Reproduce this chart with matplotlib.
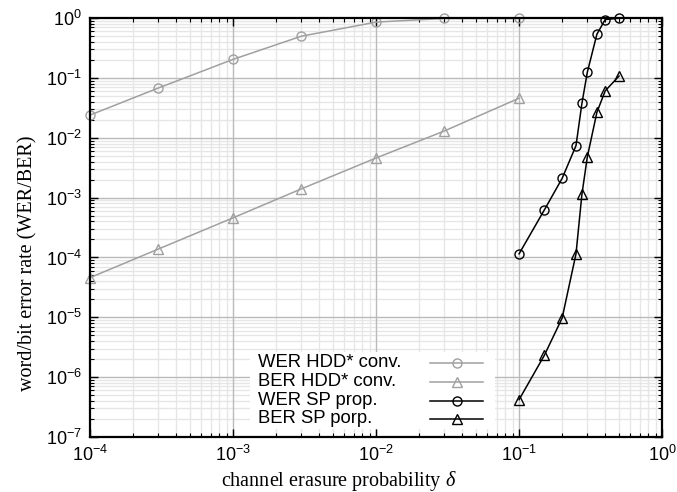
import matplotlib
matplotlib.use("Agg")
import matplotlib.pyplot as plt
from matplotlib.ticker import LogLocator, NullFormatter
from matplotlib.lines import Line2D
from matplotlib.patches import Rectangle

plt.rcParams['font.family'] = ['Liberation Sans', 'DejaVu Sans']
plt.rcParams['mathtext.fontset'] = 'custom'
plt.rcParams['mathtext.it'] = 'Liberation Serif:italic'
plt.rcParams['mathtext.rm'] = 'Liberation Sans'
plt.rcParams['axes.unicode_minus'] = False

# data
delta_hdd = [1e-4, 3e-4, 1e-3, 3e-3, 1e-2, 3e-2, 1e-1]
wer_hdd = [0.024, 0.068, 0.205, 0.50, 0.86, 0.99, 0.99]
ber_hdd = [4.6e-5, 1.38e-4, 4.6e-4, 1.4e-3, 4.6e-3, 0.013, 0.046]

delta_sp = [0.1, 0.15, 0.2, 0.25, 0.275, 0.3, 0.35, 0.4, 0.5]
wer_sp = [1.15e-4, 6.2e-4, 2.1e-3, 7.4e-3, 0.0377, 0.125, 0.54, 0.95, 1.0]
ber_sp = [4.2e-7, 2.3e-6, 9.7e-6, 1.15e-4, 1.14e-3, 4.8e-3, 0.0267, 0.061, 0.108]

labels = ["WER HDD* conv.", "BER HDD* conv.", "WER SP prop.", "BER SP porp."]

x_decades = [1e-4, 1e-3, 1e-2, 1e-1, 1]
y_decades = [1e-7, 1e-6, 1e-5, 1e-4, 1e-3, 1e-2, 1e-1, 1]

fig = plt.figure(figsize=(6.77, 4.92), dpi=100)
ax = fig.add_axes([0.133, 0.112, 0.845, 0.851])

gray = '#a0a0a0'
styles = [
    (delta_hdd, wer_hdd, gray, 'o'),
    (delta_hdd, ber_hdd, gray, '^'),
    (delta_sp, wer_sp, 'black', 'o'),
    (delta_sp, ber_sp, 'black', '^'),
]
for (xs, ys, c, m), lab in zip(styles, labels):
    ax.plot(xs, ys, color=c, lw=1.1, marker=m, ms=6.5, mfc='none', mec=c, mew=1.0,
            label=lab, clip_on=False, zorder=4)

ax.set_xscale('log')
ax.set_yscale('log')
ax.set_xlim(1e-4, 1)
ax.set_ylim(1e-7, 1)

ax.xaxis.set_major_locator(LogLocator(base=10, numticks=10))
ax.yaxis.set_major_locator(LogLocator(base=10, numticks=10))
ax.xaxis.set_minor_locator(LogLocator(base=10, subs=range(2, 10), numticks=20))
ax.yaxis.set_minor_locator(LogLocator(base=10, subs=range(2, 10), numticks=20))
ax.xaxis.set_minor_formatter(NullFormatter())
ax.yaxis.set_minor_formatter(NullFormatter())

# grid: minor light, major darker on top
for d in x_decades[:-1]:
    for k in range(2, 10):
        ax.axvline(d * k, color='#e6e6e6', lw=1.0, zorder=0.5)
for d in y_decades[:-1]:
    for k in range(2, 10):
        ax.axhline(d * k, color='#e6e6e6', lw=1.0, zorder=0.5)
for d in x_decades[1:-1]:
    ax.axvline(d, color='#bababa', lw=1.0, zorder=0.6)
for d in y_decades[1:-1]:
    ax.axhline(d, color='#bababa', lw=1.0, zorder=0.6)

ax.tick_params(which='both', direction='in', top=True, right=True, labelsize=13, colors='black')
ax.tick_params(which='major', length=6, width=1.0, pad=6)
ax.tick_params(which='minor', length=3, width=0.8)
for s in ax.spines.values():
    s.set_linewidth(1.6)
    s.set_zorder(5)

ax.set_xlabel(r'channel erasure probability $\delta$', family='Liberation Serif', fontsize=14.5)
ax.set_ylabel('word/bit error rate (WER/BER)', family='Liberation Serif', fontsize=14.5)
ax.xaxis.set_label_coords(0.435, -0.077)
ax.yaxis.set_label_coords(-0.0927, 0.415)

# legend (gnuplot style: text left, sample right)
ax.add_patch(Rectangle((0.28, 0.018), 0.428, 0.185, transform=ax.transAxes,
                       facecolor='white', edgecolor='none', zorder=3))
rows_y = [0.1766, 0.1313, 0.0859, 0.0430]
for (xs, ys, c, m), lab, yy in zip(styles, labels, rows_y):
    ax.text(0.2937, yy, lab, transform=ax.transAxes, fontsize=13.3, ha='left', va='center', zorder=6)
    ax.add_line(Line2D([0.5944, 0.687], [yy, yy], transform=ax.transAxes, color=c, lw=1.1, zorder=6))
    ax.add_line(Line2D([0.6407], [yy], transform=ax.transAxes, marker=m, ms=6.5, mfc='none',
                       mec=c, mew=1.0, ls='none', zorder=6))

fig.savefig('out.png', dpi=100)
